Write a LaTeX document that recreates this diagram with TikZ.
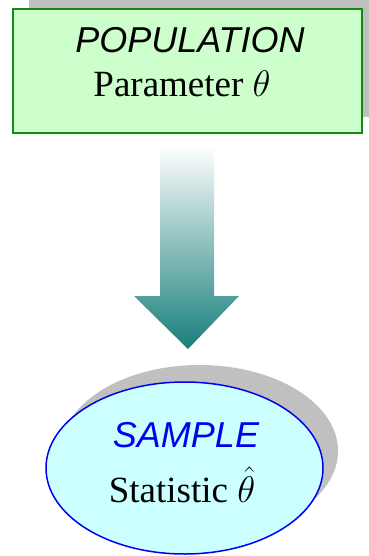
\RequirePackage{fix-cm}
\documentclass[tikz,border=0pt]{standalone}
\usepackage{fontspec}
\setmainfont{Liberation Serif}
\setsansfont{Liberation Sans}
\usetikzlibrary{shapes.geometric}
\definecolor{popfill}{HTML}{CCFFCC}
\definecolor{popdraw}{HTML}{138A13}
\definecolor{samfill}{HTML}{CCFFFF}
\definecolor{samdraw}{HTML}{0000EE}
\definecolor{shadowgray}{HTML}{C0C0C0}
\definecolor{teal1}{HTML}{177E7A}
\tikzset{
  popbox/.style={rectangle, minimum width=349pt, minimum height=124pt, inner sep=0pt},
  samell/.style={ellipse, minimum width=277pt, minimum height=172pt, inner sep=0pt},
  headtxt/.style={anchor=base, font=\fontsize{36}{40}\selectfont\sffamily\itshape, inner sep=0pt},
  subtxt/.style={anchor=base, font=\fontsize{37}{42}\selectfont, inner sep=0pt}
}
\begin{document}
\begin{tikzpicture}[x=1pt,y=-1pt]
\useasboundingbox (0,0) rectangle (368,556);
% population box with shadow
\node[popbox, fill=shadowgray] (popshadow) at (203.5,55) {};
\node[popbox, fill=popfill, draw=popdraw, line width=1.5pt] (pop) at (187.5,71) {};
\node[headtxt] (poptitle) at (190,53) {POPULATION};
\node[subtxt] (popparam) at (182,97) {Parameter $\theta$};
% arrow
\path[top color=white, bottom color=teal1, shading angle=0]
  (160,145) -- (214,145) -- (214,296) -- (239,296) -- (188,349) -- (134,296) -- (160,296) -- cycle;
% sample ellipse with shadow
\node[samell, fill=shadowgray] (samshadow) at (199.5,451) {};
\node[samell, fill=samfill, draw=samdraw, line width=1.5pt] (sam) at (184.5,468) {};
\node[headtxt, text=samdraw] (samtitle) at (186,447) {SAMPLE};
\node[subtxt] (samstat) at (182,502) {Statistic $\hat{\theta}$};
\end{tikzpicture}
\end{document}
